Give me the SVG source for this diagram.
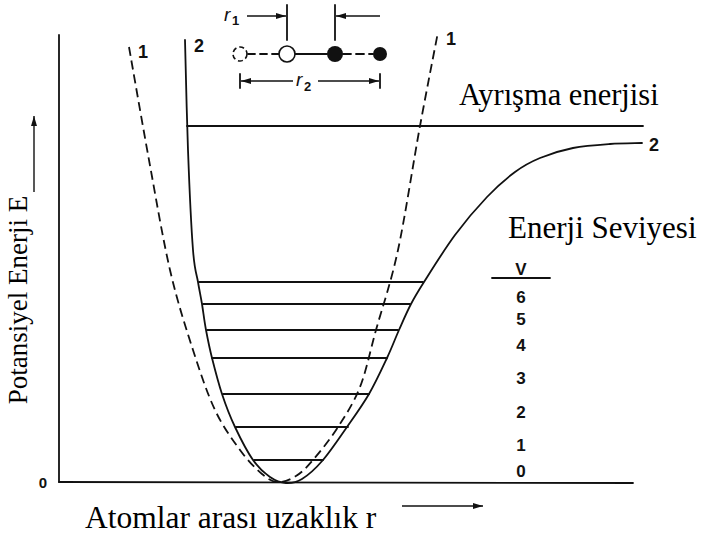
<svg xmlns="http://www.w3.org/2000/svg" width="702" height="535" viewBox="0 0 702 535">
<style>
.ln{stroke:#111;stroke-width:1.8;fill:none;stroke-linecap:round}
.thin{stroke:#111;stroke-width:1.4;fill:none}
.dash{stroke:#111;stroke-width:1.8;fill:none;stroke-dasharray:9 5}
.serif{font-family:"Liberation Serif","Times New Roman",serif;fill:#000}
.sans{font-family:"Liberation Sans",Arial,sans-serif;fill:#111}
.lab{font-size:18px;font-weight:bold}
.lvl{font-size:17px;font-weight:bold;text-anchor:middle}
</style>
<defs>
<marker id="ah" viewBox="0 0 10 6" refX="10" refY="3" markerWidth="10" markerHeight="6" markerUnits="userSpaceOnUse" orient="auto">
<path d="M0,0 L10,3 L0,6 Z" fill="#111"/>
</marker>
</defs>
<rect width="702" height="535" fill="#fff"/>

<g id="axes">
<line class="ln" x1="59" y1="35" x2="59" y2="482"/>
<line class="ln" x1="59" y1="482" x2="633" y2="483"/>
<text class="sans" x="43" y="488" font-size="15" font-weight="bold" text-anchor="middle">0</text>
</g>

<g id="connectors">
<line class="thin" x1="34" y1="192" x2="34" y2="116" marker-end="url(#ah)"/>
<line class="thin" x1="402" y1="506" x2="483" y2="506" marker-end="url(#ah)"/>
</g>

<g id="curve1">
<path class="dash" d="M129,47 C132.3,65.8 142.2,122.8 149,160 C155.8,197.2 162.7,238.3 170,270 C177.3,301.7 185.5,326.7 193,350 C200.5,373.3 207.2,393.3 215,410 C222.8,426.7 232.2,439.3 240,450 C247.8,460.7 255.7,468.7 262,474 C268.3,479.3 272.3,481.7 278,482 C283.7,482.3 290.2,479.7 296,476 C301.8,472.3 306,468.2 313,460 C320,451.8 330.2,439.2 338,427 C345.8,414.8 353.7,403.2 360,387 C366.3,370.8 369.7,352.8 376,330 C382.3,307.2 390.7,284 398,250 C405.3,216 413.3,162.3 420,126 C426.7,89.7 435,47.7 438,32"/>
<text class="sans lab" x="138" y="58">1</text>
<text class="sans lab" x="446" y="45">1</text>
</g>

<g id="curve2">
<path class="ln" stroke-width="2" d="M185,40 C185.5,58.3 186.7,115 188,150 C189.3,185 191.3,228 193,250 C194.7,272 196.5,273 198,282 C199.5,291 200.7,296 202,304 C203.3,312 204.3,321 206,330 C207.7,339 209.3,347.3 212,358 C214.7,368.7 218.2,382.5 222,394 C225.8,405.5 229.8,416 235,427 C240.2,438 247.2,451.7 253,460 C258.8,468.3 264.5,473.2 270,477 C275.5,480.8 280.7,482.7 286,483 C291.3,483.3 295.8,482.8 302,479 C308.2,475.2 315.5,468.7 323,460 C330.5,451.3 339.3,438 347,427 C354.7,416 362.3,405.5 369,394 C375.7,382.5 382,368.7 387,358 C392,347.3 395,339 399,330 C403,321 406.8,312 411,304 C415.2,296 416.7,293.5 424,282 C431.3,270.5 444.5,249.2 455,235 C465.5,220.8 477,207.5 487,197 C497,186.5 506.2,178.5 515,172 C523.8,165.5 530.3,162 540,158 C549.7,154 561.3,150.3 573,148 C584.7,145.7 598.5,144.8 610,144 C621.5,143.2 636.7,143.2 642,143"/>
<text class="sans lab" x="194" y="52">2</text>
<text class="sans lab" x="649" y="151">2</text>
</g>

<g id="dissociation">
<line class="ln" x1="187" y1="126" x2="643" y2="126"/>
<text class="serif" x="459" y="105" font-size="30.5">Ayrışma enerjisi</text>
</g>

<g id="levels">
<line class="ln" x1="199" y1="282" x2="423" y2="282"/>
<line class="ln" x1="203" y1="304" x2="410" y2="304"/>
<line class="ln" x1="207" y1="330" x2="398" y2="330"/>
<line class="ln" x1="212" y1="358" x2="387" y2="358"/>
<line class="ln" x1="223" y1="394" x2="369" y2="394"/>
<line class="ln" x1="236" y1="427" x2="348" y2="427"/>
<line class="ln" x1="254" y1="460" x2="323" y2="460"/>
</g>

<g id="levelLabels">
<text class="serif" x="508" y="238" font-size="31">Enerji Seviyesi</text>
<text class="sans lvl" x="521" y="275" font-size="15">V</text>
<line class="ln" x1="492" y1="278" x2="550" y2="278"/>
<text class="sans lvl" x="521" y="303">6</text>
<text class="sans lvl" x="521" y="325">5</text>
<text class="sans lvl" x="521" y="351">4</text>
<text class="sans lvl" x="521" y="384">3</text>
<text class="sans lvl" x="521" y="418">2</text>
<text class="sans lvl" x="521" y="451">1</text>
<text class="sans lvl" x="521" y="477">0</text>
</g>

<g id="axisLabels">
<text class="serif" x="85" y="528" font-size="31.5">Atomlar arası uzaklık r</text>
<text class="serif" transform="translate(27,300) rotate(-90)" text-anchor="middle" font-size="27">Potansiyel Enerji E</text>
</g>

<g id="molecule">
<text class="sans" x="224" y="21" font-size="19" font-style="italic">r</text>
<text class="sans" x="232" y="25" font-size="13" font-weight="bold">1</text>
<line class="thin" x1="247" y1="16" x2="286" y2="16" marker-end="url(#ah)"/>
<line class="thin" x1="380" y1="16" x2="336" y2="16" marker-end="url(#ah)"/>
<line class="ln" x1="287" y1="5" x2="287" y2="40"/>
<line class="ln" x1="335" y1="5" x2="335" y2="40"/>
<line class="ln" x1="248" y1="54" x2="279" y2="54" stroke-dasharray="7 5"/>
<line class="ln" x1="295" y1="54" x2="327" y2="54"/>
<line class="ln" x1="343" y1="54" x2="373" y2="54" stroke-dasharray="8 5"/>
<circle cx="240" cy="54" r="7" fill="#fff" stroke="#111" stroke-width="1.6" stroke-dasharray="5 3"/>
<circle cx="287" cy="54" r="8" fill="#fff" stroke="#111" stroke-width="1.6"/>
<circle cx="335" cy="54" r="8" fill="#111"/>
<circle cx="380" cy="54" r="7" fill="#111"/>
<line class="ln" x1="240" y1="74" x2="240" y2="88"/>
<line class="ln" x1="380" y1="74" x2="380" y2="88"/>
<line class="thin" x1="293" y1="81" x2="241" y2="81" marker-end="url(#ah)"/>
<line class="thin" x1="318" y1="81" x2="379" y2="81" marker-end="url(#ah)"/>
<text class="sans" x="296" y="86" font-size="19" font-style="italic">r</text>
<text class="sans" x="304" y="91" font-size="13" font-weight="bold">2</text>
</g>
</svg>
